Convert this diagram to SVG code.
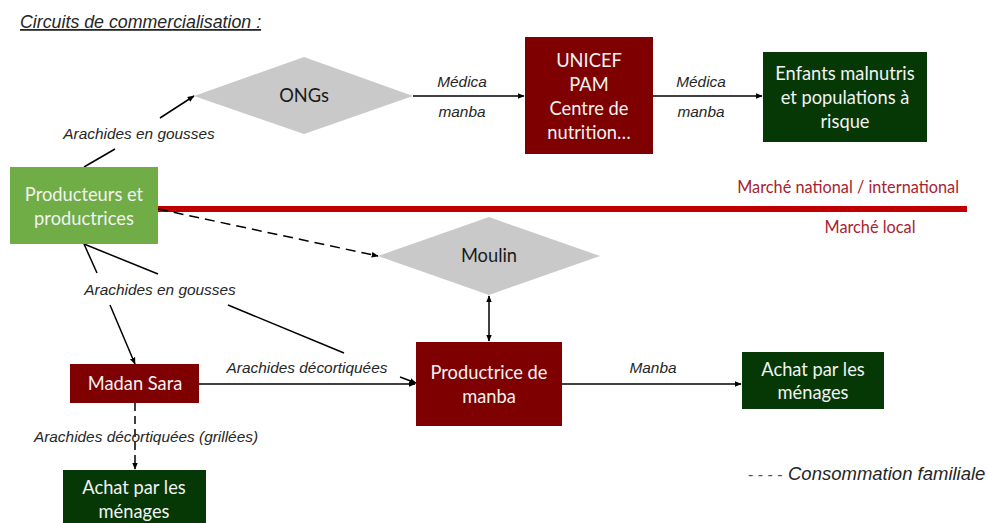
<svg xmlns="http://www.w3.org/2000/svg" width="988" height="523" viewBox="0 0 988 523">
<style>
text{font-family:Lato,"Open Sans","Liberation Sans",sans-serif;}
.bt{fill:#f2f2f2;font-size:18.3px;text-anchor:middle;}
.dt{fill:#1a1a1a;font-size:18.3px;text-anchor:middle;}
.it{font-family:"Liberation Sans",Arial,sans-serif;font-style:italic;fill:#262626;}
.lb{font-size:15.4px;text-anchor:middle;}
.mk{fill:#a8232f;font-size:16.3px;}
.ln{stroke:#000;stroke-width:1.5;fill:none;}
.ds{stroke-dasharray:10 6;}
.arr{marker-end:url(#ah);}
</style>
<defs>
<marker id="ah" viewBox="0 0 10 10" refX="9" refY="5" markerWidth="7" markerHeight="7" markerUnits="userSpaceOnUse" orient="auto-start-reverse">
<path d="M0,1 L10,5 L0,9 z" fill="#000"/>
</marker>
</defs>
<rect width="988" height="523" fill="#fff"/>
<text class="it" x="20" y="28" style="font-size:17.8px;text-decoration:underline;">Circuits de commercialisation :</text>

<line x1="158" y1="209" x2="967" y2="209" stroke="#c00000" stroke-width="6"/>
<text class="mk" x="959" y="193" text-anchor="end">Marché national / international</text>
<text class="mk" x="870" y="233" text-anchor="middle">Marché local</text>

<g id="connectors">
<line class="ln" x1="84" y1="167" x2="115" y2="149"/>
<line class="ln arr" x1="160" y1="118" x2="194" y2="96"/>
<line class="ln arr" x1="413" y1="96" x2="524" y2="96"/>
<line class="ln arr" x1="653" y1="96" x2="762" y2="96"/>
<line class="ln ds arr" x1="158" y1="209" x2="378" y2="256"/>
<line class="ln" x1="84" y1="244" x2="97" y2="273"/>
<line class="ln arr" x1="110" y1="305" x2="135" y2="364"/>
<line class="ln" x1="84" y1="244" x2="158" y2="274"/>
<line class="ln" x1="228" y1="305" x2="344" y2="353"/>
<line class="ln arr" x1="400" y1="377" x2="416" y2="383"/>
<line class="ln arr" x1="199" y1="384" x2="415" y2="384"/>
<line class="ln arr" x1="489" y1="296" x2="489" y2="341" style="marker-start:url(#ah)"/>
<line class="ln arr" x1="562" y1="384" x2="741" y2="384"/>
<line class="ln ds arr" x1="135" y1="403" x2="135" y2="469" style="stroke-dasharray:8 5"/>
<text class="it lb" x="139" y="139">Arachides en gousses</text>
<text class="it lb" x="462" y="87">Médica</text>
<text class="it lb" x="462" y="117">manba</text>
<text class="it lb" x="701" y="87">Médica</text>
<text class="it lb" x="701" y="117">manba</text>
<text class="it lb" x="160" y="295">Arachides en gousses</text>
<text class="it lb" x="307" y="373">Arachides décortiquées</text>
<text class="it lb" x="146" y="442">Arachides décortiquées (grillées)</text>
<text class="it lb" x="653" y="373">Manba</text>
</g>

<g id="producteurs">
<rect x="10" y="167" width="148" height="77" fill="#70ad47"/>
<text class="bt" x="84" y="201">Producteurs et</text>
<text class="bt" x="84" y="225">productrices</text>
</g>
<g id="ongs">
<polygon points="194,96 304,57 413,96 304,134" fill="#c9c9c9"/>
<text class="dt" x="304" y="102">ONGs</text>
</g>
<g id="unicef">
<rect x="525" y="37" width="128" height="117" fill="#7f0000"/>
<text class="bt" x="589" y="67">UNICEF</text>
<text class="bt" x="589" y="91">PAM</text>
<text class="bt" x="589" y="115">Centre de</text>
<text class="bt" x="589" y="139">nutrition…</text>
</g>
<g id="enfants">
<rect x="763" y="52" width="164" height="90" fill="#063806"/>
<text class="bt" x="845" y="80">Enfants malnutris</text>
<text class="bt" x="845" y="104">et populations à</text>
<text class="bt" x="845" y="128">risque</text>
</g>
<g id="moulin">
<polygon points="378,256 489,217 600,256 489,295" fill="#c9c9c9"/>
<text class="dt" x="489" y="262">Moulin</text>
</g>
<g id="madan-sara">
<rect x="70" y="364" width="129" height="39" fill="#7f0000"/>
<text class="bt" x="135" y="390">Madan Sara</text>
</g>
<g id="productrice">
<rect x="416" y="342" width="146" height="84" fill="#7f0000"/>
<text class="bt" x="489" y="379">Productrice de</text>
<text class="bt" x="489" y="403">manba</text>
</g>
<g id="achat-menages-1">
<rect x="742" y="352" width="142" height="57" fill="#063806"/>
<text class="bt" x="813" y="376">Achat par les</text>
<text class="bt" x="813" y="399">ménages</text>
</g>
<g id="achat-menages-2">
<rect x="63" y="470" width="143" height="60" fill="#063806"/>
<text class="bt" x="134" y="494">Achat par les</text>
<text class="bt" x="134" y="518">ménages</text>
</g>
<g id="legend">
<text class="it" x="748" y="480" style="font-size:18.5px;"><tspan fill="#555" font-style="normal" font-size="16px">- - - -</tspan><tspan x="788">Consommation familiale</tspan></text>
</g>
</svg>
